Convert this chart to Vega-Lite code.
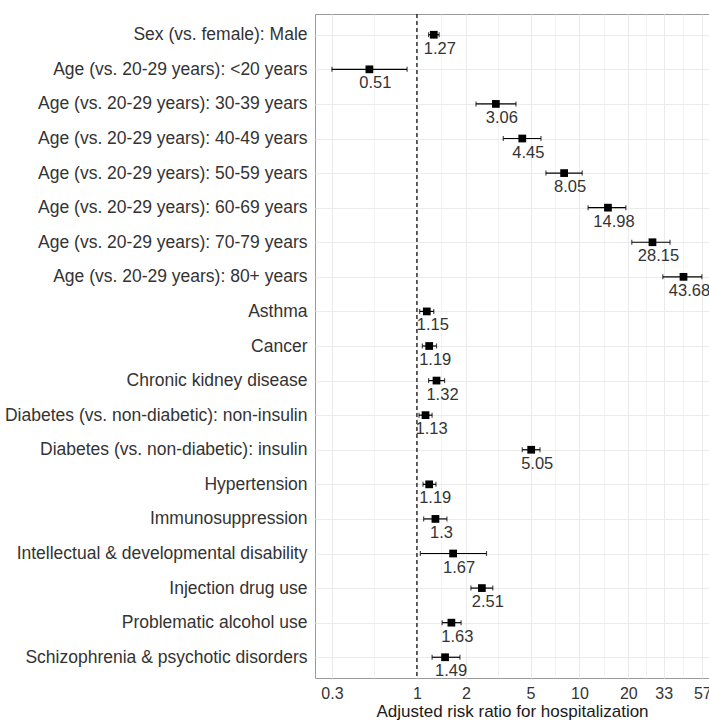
{
  "$schema": "https://vega.github.io/schema/vega-lite/v6.json",
  "width": 394,
  "height": 664,
  "autosize": "none",
  "padding": {"left": 315, "top": 14, "right": 0, "bottom": 42},
  "background": "white",
  "config": {
    "font": "Liberation Sans",
    "view": {"stroke": "#9a9a9a", "strokeWidth": 1}
  },
  "data": {
    "values": [
      {"var": "Sex (vs. female): Male", "rr": 1.27, "lo": 1.18, "hi": 1.37},
      {"var": "Age (vs. 20-29 years): <20 years", "rr": 0.51, "lo": 0.30, "hi": 0.87},
      {"var": "Age (vs. 20-29 years): 30-39 years", "rr": 3.06, "lo": 2.31, "hi": 4.07},
      {"var": "Age (vs. 20-29 years): 40-49 years", "rr": 4.45, "lo": 3.40, "hi": 5.80},
      {"var": "Age (vs. 20-29 years): 50-59 years", "rr": 8.05, "lo": 6.22, "hi": 10.4},
      {"var": "Age (vs. 20-29 years): 60-69 years", "rr": 14.98, "lo": 11.3, "hi": 19.3},
      {"var": "Age (vs. 20-29 years): 70-79 years", "rr": 28.15, "lo": 21.0, "hi": 36.1},
      {"var": "Age (vs. 20-29 years): 80+ years", "rr": 43.68, "lo": 32.6, "hi": 56.7},
      {"var": "Asthma", "rr": 1.15, "lo": 1.04, "hi": 1.27},
      {"var": "Cancer", "rr": 1.19, "lo": 1.08, "hi": 1.32},
      {"var": "Chronic kidney disease", "rr": 1.32, "lo": 1.18, "hi": 1.48},
      {"var": "Diabetes (vs. non-diabetic): non-insulin", "rr": 1.13, "lo": 1.03, "hi": 1.24},
      {"var": "Diabetes (vs. non-diabetic): insulin", "rr": 5.05, "lo": 4.45, "hi": 5.72},
      {"var": "Hypertension", "rr": 1.19, "lo": 1.09, "hi": 1.31},
      {"var": "Immunosuppression", "rr": 1.3, "lo": 1.10, "hi": 1.53},
      {"var": "Intellectual & developmental disability", "rr": 1.67, "lo": 1.05, "hi": 2.68},
      {"var": "Injection drug use", "rr": 2.51, "lo": 2.15, "hi": 2.93},
      {"var": "Problematic alcohol use", "rr": 1.63, "lo": 1.43, "hi": 1.87},
      {"var": "Schizophrenia & psychotic disorders", "rr": 1.49, "lo": 1.24, "hi": 1.84}
    ]
  },
  "layer": [
    {
      "data": {"values": [{"ref": 1}]},
      "mark": {"type": "rule", "color": "black", "strokeDash": [4, 3], "strokeWidth": 1.2},
      "encoding": {
        "x": {
          "field": "ref",
          "type": "quantitative",
          "scale": {"type": "log", "domain": [0.236, 62.7], "nice": false, "zero": false},
          "axis": {
            "title": "Adjusted risk ratio for hospitalization",
            "titleFontSize": 17,
            "titleFontWeight": "normal",
            "titleColor": "#1a1a1a",
            "titlePadding": 2,
            "values": [0.3, 0.5477, 1, 1.4142, 2, 3.1623, 5, 7.0711, 10, 14.142, 20, 25.69, 33, 43.37, 57],
            "labelExpr": "indexof([0.3,1,2,5,10,20,33,57], datum.value) >= 0 ? datum.value + '' : ''",
            "labelFontSize": 16,
            "labelColor": "#333333",
            "labelPadding": 7,
            "labelFlush": false,
            "labelOverlap": false,
            "ticks": false,
            "domain": false,
            "gridColor": "#ebebeb",
            "gridWidth": {"condition": {"test": "indexof([0.3,1,2,5,10,20,33,57], datum.value) < 0", "value": 0.6}, "value": 1}
          }
        }
      }
    },
    {
      "encoding": {
        "y": {
          "field": "var",
          "type": "nominal",
          "sort": null,
          "scale": {"type": "point", "padding": 0.6},
          "axis": {
            "title": null,
            "domain": false,
            "ticks": false,
            "grid": true,
            "labelPadding": 8,
            "labelFontSize": 17.5,
            "labelColor": "#333333",
            "labelLimit": 500,
            "gridColor": "#ebebeb",
            "gridWidth": 1
          }
        }
      },
      "layer": [
        {
          "mark": {"type": "rule", "color": "black", "strokeWidth": 1.2},
          "encoding": {
            "x": {"field": "lo", "type": "quantitative"},
            "x2": {"field": "hi"}
          }
        },
        {
          "mark": {"type": "tick", "color": "black", "thickness": 1.2, "size": 5, "orient": "vertical"},
          "encoding": {"x": {"field": "lo", "type": "quantitative"}}
        },
        {
          "mark": {"type": "tick", "color": "black", "thickness": 1.2, "size": 5, "orient": "vertical"},
          "encoding": {"x": {"field": "hi", "type": "quantitative"}}
        },
        {
          "mark": {"type": "point", "shape": "square", "filled": true, "color": "black", "size": 60, "opacity": 1},
          "encoding": {"x": {"field": "rr", "type": "quantitative"}}
        },
        {
          "mark": {"type": "text", "fontSize": 16.5, "color": "#333333", "baseline": "middle", "align": "center", "dx": 6, "dy": 14},
          "encoding": {
            "x": {"field": "rr", "type": "quantitative"},
            "text": {"field": "rr", "type": "nominal"}
          }
        }
      ]
    }
  ]
}
